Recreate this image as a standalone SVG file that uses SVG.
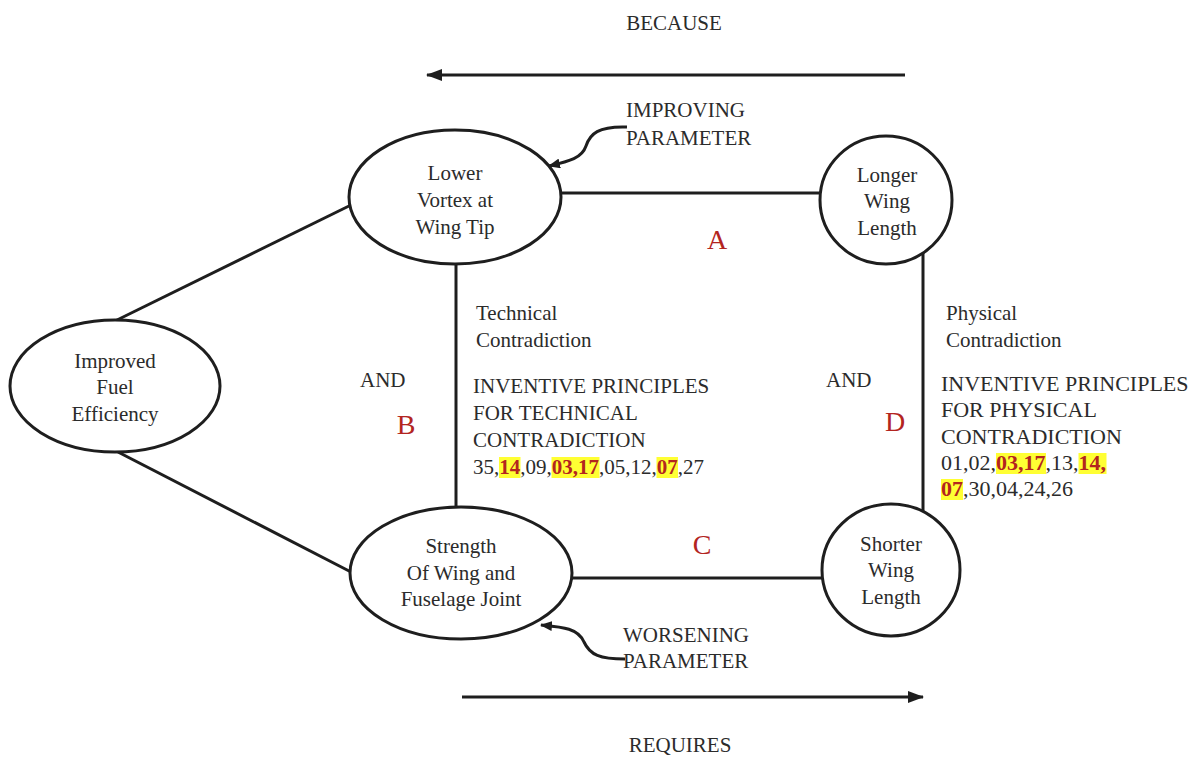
<svg xmlns="http://www.w3.org/2000/svg" width="1196" height="758" viewBox="0 0 1196 758">
  <defs>
    <style>
      .t { font-family: "Liberation Serif", "Times New Roman", serif; fill: #2b2b2b; }
      .n { font-size: 21px; text-anchor: middle; }
      .lbl { font-size: 21px; }
      .big { font-family: "Liberation Serif", "Times New Roman", serif; font-size: 28px; fill: #b3251f; text-anchor: middle; }
      .hl { font-weight: bold; fill: #b3251f; }
      .node { fill: #ffffff; stroke: #1e1e1e; stroke-width: 3; }
      .edge { fill: none; stroke: #1e1e1e; stroke-width: 3; }
      .mark { fill: #ffff33; }
    </style>
    <marker id="bigHead" viewBox="0 0 16 12" refX="15" refY="6" markerWidth="16" markerHeight="12" markerUnits="userSpaceOnUse" orient="auto">
      <path d="M0,0 L16,6 L0,12 Z" fill="#1e1e1e"/>
    </marker>
    <marker id="smallHead" viewBox="0 0 12 10" refX="11" refY="5" markerWidth="12" markerHeight="10" markerUnits="userSpaceOnUse" orient="auto">
      <path d="M0,0 L12,5 L0,10 Z" fill="#1e1e1e"/>
    </marker>
  </defs>

  <rect width="1196" height="758" fill="#ffffff"/>

  <!-- connectors -->
  <g id="connectors">
    <line class="edge" x1="115" y1="321" x2="351" y2="205"/>
    <line class="edge" x1="118" y1="452" x2="351" y2="572"/>
    <line class="edge" x1="560" y1="193" x2="821" y2="193"/>
    <line class="edge" x1="456" y1="263" x2="456" y2="508"/>
    <line class="edge" x1="923" y1="250" x2="923" y2="512"/>
    <line class="edge" x1="571" y1="578" x2="823" y2="578"/>
    <line class="edge" x1="905" y1="75" x2="427" y2="75" marker-end="url(#bigHead)"/>
    <line class="edge" x1="462" y1="697" x2="923" y2="697" marker-end="url(#bigHead)"/>
    <path class="edge" stroke-width="2.5" d="M627,127 C598,126 590,134 586,146 C582,158 570,161 549,166" marker-end="url(#smallHead)"/>
    <path class="edge" stroke-width="2.5" d="M625,659 C600,659 590,655 584,642 C578,628 562,627 541,625" marker-end="url(#smallHead)"/>
  </g>

  <!-- nodes -->
  <g id="node-fuel">
    <ellipse class="node" cx="115" cy="386" rx="105" ry="66"/>
    <text class="t n" x="115" y="368">Improved</text>
    <text class="t n" x="115" y="394">Fuel</text>
    <text class="t n" x="115" y="421">Efficiency</text>
  </g>
  <g id="node-vortex">
    <ellipse class="node" cx="455" cy="197" rx="106" ry="67"/>
    <text class="t n" x="455" y="180">Lower</text>
    <text class="t n" x="455" y="207">Vortex at</text>
    <text class="t n" x="455" y="234">Wing Tip</text>
  </g>
  <g id="node-longer">
    <ellipse class="node" cx="886" cy="200" rx="66" ry="64"/>
    <text class="t n" x="887" y="182">Longer</text>
    <text class="t n" x="887" y="208">Wing</text>
    <text class="t n" x="887" y="235">Length</text>
  </g>
  <g id="node-strength">
    <ellipse class="node" cx="461" cy="573" rx="111" ry="66"/>
    <text class="t n" x="461" y="553">Strength</text>
    <text class="t n" x="461" y="580">Of Wing and</text>
    <text class="t n" x="461" y="606">Fuselage Joint</text>
  </g>
  <g id="node-shorter">
    <ellipse class="node" cx="891" cy="570" rx="69" ry="66"/>
    <text class="t n" x="891" y="551">Shorter</text>
    <text class="t n" x="891" y="577">Wing</text>
    <text class="t n" x="891" y="604">Length</text>
  </g>

  <!-- direction labels -->
  <text class="t lbl" x="674" y="30" text-anchor="middle">BECAUSE</text>
  <text class="t lbl" x="680" y="752" text-anchor="middle">REQUIRES</text>
  <text class="t lbl" x="626" y="117">IMPROVING</text>
  <text class="t lbl" x="626" y="145">PARAMETER</text>
  <text class="t lbl" x="623" y="642">WORSENING</text>
  <text class="t lbl" x="623" y="668">PARAMETER</text>

  <!-- quadrant letters -->
  <text class="big" x="717" y="249">A</text>
  <text class="big" x="406" y="434">B</text>
  <text class="big" x="702" y="554">C</text>
  <text class="big" x="895" y="431">D</text>

  <text class="t lbl" x="360" y="387">AND</text>
  <text class="t lbl" x="826" y="387">AND</text>

  <!-- technical contradiction block -->
  <g id="technical">
    <text class="t lbl" x="476" y="320">Technical</text>
    <text class="t lbl" x="476" y="347">Contradiction</text>
    <text class="t lbl" x="473" y="393">INVENTIVE PRINCIPLES</text>
    <text class="t lbl" x="473" y="420">FOR TECHNICAL</text>
    <text class="t lbl" x="473" y="447">CONTRADICTION</text>
    <rect class="mark" x="499" y="457" width="21.5" height="21"/>
    <rect class="mark" x="551.5" y="457" width="48" height="21"/>
    <rect class="mark" x="656.5" y="457" width="21.5" height="21"/>
    <text class="t lbl" x="473" y="474">35,<tspan class="hl">14</tspan>,09,<tspan class="hl">03,17</tspan>,05,12,<tspan class="hl">07</tspan>,27</text>
  </g>

  <!-- physical contradiction block -->
  <g id="physical">
    <text class="t lbl" x="946" y="320">Physical</text>
    <text class="t lbl" x="946" y="347">Contradiction</text>
    <text class="t" font-size="22" x="941" y="391">INVENTIVE PRINCIPLES</text>
    <text class="t" font-size="22" x="941" y="417">FOR PHYSICAL</text>
    <text class="t" font-size="22" x="941" y="444">CONTRADICTION</text>
    <rect class="mark" x="996" y="453" width="50" height="21"/>
    <rect class="mark" x="1078.5" y="453" width="28" height="21"/>
    <rect class="mark" x="941" y="479" width="22" height="21"/>
    <text class="t" font-size="22" x="941" y="470">01,02,<tspan class="hl">03,17</tspan>,13,<tspan class="hl">14,</tspan></text>
    <text class="t" font-size="22" x="941" y="496"><tspan class="hl">07</tspan>,30,04,24,26</text>
  </g>
</svg>
